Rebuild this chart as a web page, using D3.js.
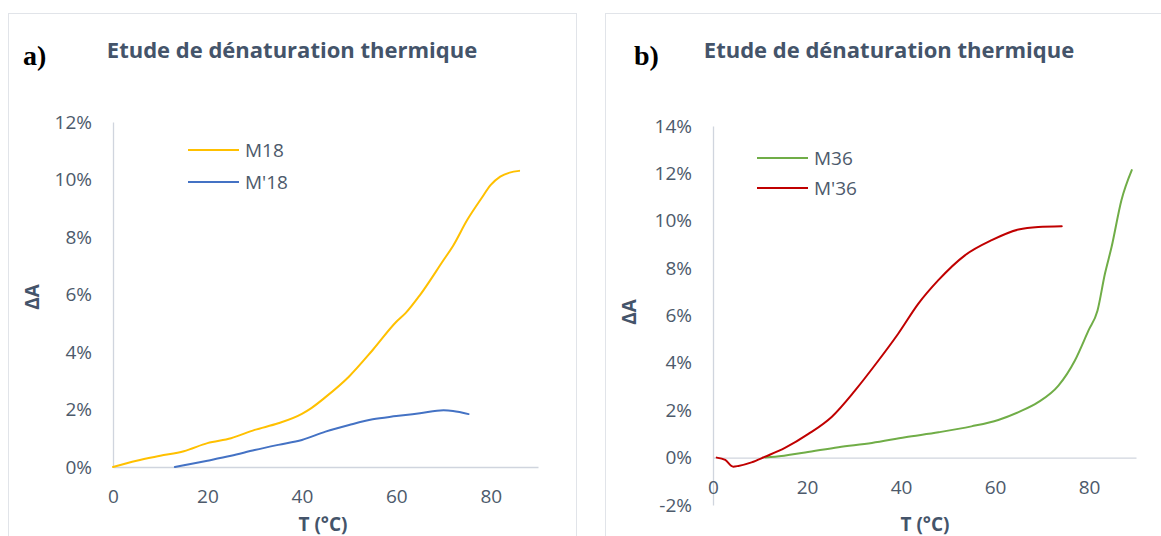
<!DOCTYPE html>
<html>
<head>
<meta charset="utf-8">
<script src="https://cdn.jsdelivr.net/npm/d3@7"></script>
<style>
  html, body { margin: 0; padding: 0; background: #fff; }
  svg { display: block; }
  text { font-family: "Open Sans", "Lato", sans-serif; }
</style>
</head>
<body>
<svg id="chart" width="1161" height="536"></svg>
<script>
// ---- Data ----
const panelLabels = ["a)", "b)"];
const chartTitle = "Etude de dénaturation thermique";
const xAxisTitle = "T (°C)";
const yAxisTitle = "ΔA";

const xTicks = [0, 20, 40, 60, 80];
const yTicksA = [0, 2, 4, 6, 8, 10, 12];
const yTicksB = [-2, 0, 2, 4, 6, 8, 10, 12, 14];

// Panel a
const seriesNamesA = ["M18", "M'18"];
const tempM18 = [0, 5, 10, 15, 20, 25, 30, 35, 40, 42, 45, 50, 55, 60, 62, 65, 70, 72, 75, 78, 80, 82, 84, 86];
const valM18  = [0, 0.22, 0.39, 0.55, 0.83, 1.0, 1.29, 1.52, 1.85, 2.05, 2.43, 3.15, 4.07, 5.05, 5.36, 5.98, 7.2, 7.69, 8.59, 9.34, 9.81, 10.1, 10.24, 10.3];
const tempMp18 = [13.1, 15, 20, 25, 30, 35, 40, 45, 50, 55, 60, 65, 70, 72, 75.3];
const valMp18  = [0, 0.06, 0.22, 0.39, 0.59, 0.77, 0.94, 1.23, 1.46, 1.66, 1.77, 1.87, 1.97, 1.95, 1.84];

// Panel b
const seriesNamesB = ["M36", "M'36"];
const tempM36 = [11.1, 13.2, 19.6, 26.7, 33.8, 40.9, 48, 55, 60.7, 65, 69.2, 73.5, 77, 79.9, 81.8, 83.4, 84.8, 86.9, 89.1];
const valM36  = [0.01, 0.04, 0.22, 0.44, 0.62, 0.86, 1.07, 1.32, 1.59, 1.92, 2.34, 3.04, 4.1, 5.37, 6.2, 7.77, 8.89, 10.87, 12.14];
const tempMp36 = [0.8, 2.6, 4.3, 5.4, 8.2, 11.1, 15.3, 20.3, 25.3, 30.2, 35.2, 39.4, 43.7, 47.9, 53.6, 59.3, 65, 69.2, 74.2];
const valMp36  = [0, -0.1, -0.38, -0.35, -0.2, 0.04, 0.41, 1.0, 1.73, 2.83, 4.1, 5.23, 6.5, 7.48, 8.54, 9.18, 9.63, 9.74, 9.77];

const zip = (t, v) => t.map((d, i) => ({ t: d, v: v[i] }));

const svg = d3.select("#chart");
const textColor = "#44546A";
const tickColor = "#4D5A6B";
const axisColor = "#D0D5DE";
const frameColor = "#E1E4E9";

const panels = [
  {
    label: panelLabels[0], frame: [8.5, 13.5, 568, 540],
    plot: { left: 113, right: 538, top: 122, bottom: 467 },
    xDomain: [0, 90], yDomain: [0, 12], yTicks: yTicksA,
    titleX: 292, labelX: 23, yTitleX: 32, yTitleY: 297, xTitleX: 323,
    series: [
      { name: seriesNamesA[0], color: "#FFC000", data: zip(tempM18, valM18) },
      { name: seriesNamesA[1], color: "#4472C4", data: zip(tempMp18, valMp18) }
    ],
    legend: { x1: 188, x2: 239, ys: [150, 182] }
  },
  {
    label: panelLabels[1], frame: [605.5, 13.5, 570, 540],
    plot: { left: 713, right: 1136, top: 126, bottom: 505 },
    xDomain: [0, 90], yDomain: [-2, 14], yTicks: yTicksB,
    titleX: 889, labelX: 634, yTitleX: 629, yTitleY: 312, xTitleX: 925,
    series: [
      { name: seriesNamesB[0], color: "#70AD47", data: zip(tempM36, valM36) },
      { name: seriesNamesB[1], color: "#C00000", data: zip(tempMp36, valMp36) }
    ],
    legend: { x1: 757, x2: 808, ys: [158, 188] }
  }
];

panels.forEach(p => {
  const g = svg.append("g");
  // frame
  g.append("rect")
    .attr("x", p.frame[0]).attr("y", p.frame[1])
    .attr("width", p.frame[2]).attr("height", p.frame[3])
    .attr("fill", "#fff").attr("stroke", frameColor).attr("stroke-width", 1);

  const x = d3.scaleLinear().domain(p.xDomain).range([p.plot.left, p.plot.right]);
  const y = d3.scaleLinear().domain(p.yDomain).range([p.plot.bottom, p.plot.top]);

  // y axis
  const yAxis = g.append("g")
    .attr("transform", `translate(${p.plot.left},0)`)
    .call(d3.axisLeft(y).tickValues(p.yTicks).tickSize(0).tickPadding(21).tickFormat(d => d + "%"));
  yAxis.select(".domain").attr("stroke", axisColor).attr("stroke-width", 1.3);
  yAxis.selectAll("text").attr("fill", tickColor).attr("font-size", 19)
    .style("font-family", "'Open Sans', sans-serif");

  // x axis at y = 0
  const xAxis = g.append("g")
    .attr("transform", `translate(0,${y(0)})`)
    .call(d3.axisBottom(x).tickValues(xTicks).tickSize(0).tickPadding(23).tickFormat(d3.format("d")));
  xAxis.select(".domain").attr("stroke", axisColor).attr("stroke-width", 1.3);
  xAxis.selectAll("text").attr("fill", tickColor).attr("font-size", 19)
    .style("font-family", "'Open Sans', sans-serif");

  // series
  const line = d3.line().x(d => x(d.t)).y(d => y(d.v)).curve(d3.curveMonotoneX);
  p.series.forEach(s => {
    g.append("path").datum(s.data)
      .attr("d", line)
      .attr("fill", "none")
      .attr("stroke", s.color)
      .attr("stroke-width", 2)
      .attr("stroke-linejoin", "round")
      .attr("stroke-linecap", "round");
  });

  // legend
  p.series.forEach((s, i) => {
    const ly = p.legend.ys[i];
    g.append("line")
      .attr("x1", p.legend.x1).attr("x2", p.legend.x2)
      .attr("y1", ly).attr("y2", ly)
      .attr("stroke", s.color).attr("stroke-width", 2);
    g.append("text")
      .attr("x", p.legend.x2 + 6).attr("y", ly)
      .attr("dy", "0.36em")
      .attr("fill", tickColor).attr("font-size", 19)
      .text(s.name);
  });

  // title
  g.append("text")
    .attr("x", p.titleX).attr("y", 58)
    .attr("text-anchor", "middle")
    .attr("fill", textColor)
    .attr("font-size", 22).attr("font-weight", "bold")
    .text(chartTitle);

  // panel label
  g.append("text")
    .attr("x", p.labelX).attr("y", 65)
    .attr("fill", "#000")
    .attr("font-size", 28).attr("font-weight", "bold")
    .style("font-family", "'Liberation Serif', 'DejaVu Serif', serif")
    .text(p.label);

  // axis titles
  g.append("text")
    .attr("x", p.xTitleX).attr("y", 531)
    .attr("text-anchor", "middle")
    .attr("fill", textColor)
    .attr("font-size", 19).attr("font-weight", "bold")
    .text(xAxisTitle);

  g.append("text")
    .attr("transform", `translate(${p.yTitleX},${p.yTitleY}) rotate(-90)`)
    .attr("text-anchor", "middle")
    .attr("dy", "0.36em")
    .attr("fill", textColor)
    .attr("font-size", 19).attr("font-weight", "bold")
    .text(yAxisTitle);
});
</script>
</body>
</html>
